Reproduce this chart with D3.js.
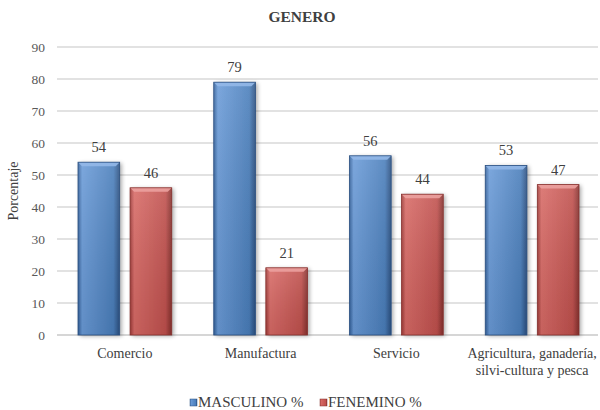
<!DOCTYPE html>
<html>
<head>
<meta charset="utf-8">
<script src="https://cdn.jsdelivr.net/npm/d3@7"></script>
<style>
  body { margin: 0; background: #fff; }
</style>
</head>
<body>
<svg id="chart" width="600" height="410"></svg>
<script>
const categories = ["Comercio", "Manufactura", "Servicio", "Agricultura, ganadería, silvi-cultura y pesca"];
const categoryLines = [["Comercio"], ["Manufactura"], ["Servicio"], ["Agricultura, ganadería,", "silvi-cultura y pesca"]];
const seriesNames = ["MASCULINO %", "FENEMINO %"];
const masculino = [54, 79, 56, 53];
const femenino = [46, 21, 44, 47];
const yTicks = [0, 10, 20, 30, 40, 50, 60, 70, 80, 90];

const FONT = '"Liberation Serif"';
const svg = d3.select("#chart");
const margin = { top: 47, right: 0, bottom: 75, left: 57 };
const W = 600, H = 410;

const x = d3.scaleBand().domain(categories).range([margin.left, W - margin.right]).paddingInner(0).paddingOuter(0);
const sub = d3.scaleBand().domain(seriesNames).range([21, x.bandwidth() - 21]).paddingInner(0.2);
const y = d3.scaleLinear().domain([0, 90]).range([H - margin.bottom, margin.top]);

const colors = {
  "MASCULINO %": { base: "#4a7ebb", light: "#6a9bd8", dark: "#33609a", edge: "#2a4f80", top: "#93b8e8" },
  "FENEMINO %": { base: "#c0504d", light: "#d86a66", dark: "#9e3a37", edge: "#85302d", top: "#eba19e" }
};

const defs = svg.append("defs");
seriesNames.forEach((s, i) => {
  const c = colors[s];
  const g = defs.append("linearGradient").attr("id", "grad" + i).attr("x1", 0).attr("x2", 1).attr("y1", 0).attr("y2", 0);
  g.append("stop").attr("offset", "0%").attr("stop-color", c.dark);
  g.append("stop").attr("offset", "10%").attr("stop-color", c.light);
  g.append("stop").attr("offset", "85%").attr("stop-color", c.base);
  g.append("stop").attr("offset", "100%").attr("stop-color", c.edge);
  const gv = defs.append("linearGradient").attr("id", "vgrad" + i).attr("x1", 0).attr("x2", 0).attr("y1", 0).attr("y2", 1);
  gv.append("stop").attr("offset", "0%").attr("stop-color", "#fff").attr("stop-opacity", 0.12);
  gv.append("stop").attr("offset", "100%").attr("stop-color", "#000").attr("stop-opacity", 0.08);
});
const shadow = defs.append("filter").attr("id", "shadow").attr("x", "-20%").attr("y", "-10%").attr("width", "150%").attr("height", "130%");
shadow.append("feGaussianBlur").attr("in", "SourceAlpha").attr("stdDeviation", 2);
shadow.append("feOffset").attr("dx", 2).attr("dy", 1).attr("result", "b");
shadow.append("feComponentTransfer").append("feFuncA").attr("type", "linear").attr("slope", 0.35);
const merge = shadow.append("feMerge");
merge.append("feMergeNode");
merge.append("feMergeNode").attr("in", "SourceGraphic");

// gridlines
svg.append("g").selectAll("line").data(yTicks).join("line")
  .attr("x1", margin.left).attr("x2", W - 2)
  .attr("y1", d => y(d)).attr("y2", d => y(d))
  .attr("stroke", d => d === 0 ? "#c8c8c8" : "#d9d9d9").attr("stroke-width", 1.3);

// y axis labels
const yAxis = d3.axisLeft(y).tickValues(yTicks).tickSize(0).tickPadding(12);
const ya = svg.append("g").attr("transform", `translate(${margin.left},0)`).call(yAxis);
ya.select(".domain").remove();
ya.selectAll("text").style("font-family", FONT).style("font-size", "13.5px").attr("fill", "#595959");

// y axis title
svg.append("text").attr("transform", `translate(18,${y(45)}) rotate(-90)`)
  .attr("text-anchor", "middle").style("font-family", FONT).style("font-size", "14px")
  .attr("fill", "#404040").text("Porcentaje");

// title
svg.append("text").attr("x", 302).attr("y", 22).attr("text-anchor", "middle")
  .style("font-family", FONT).style("font-size", "15.5px").style("font-weight", "bold")
  .attr("fill", "#404040").text("GENERO");

// bars
const data = categories.map((c, i) => ({ cat: c, values: [
  { s: seriesNames[0], v: masculino[i], i: 0 },
  { s: seriesNames[1], v: femenino[i], i: 1 }
] }));

const groups = svg.append("g").selectAll("g").data(data).join("g")
  .attr("transform", d => `translate(${x(d.cat)},0)`);

groups.selectAll("g.bar").data(d => d.values).join("g").attr("class", "bar").each(function(d) {
  const g = d3.select(this);
  const bx = sub(d.s), bw = sub.bandwidth();
  const by = y(d.v), bh = y(0) - y(d.v);
  const c = colors[d.s];
  g.append("rect").attr("x", bx).attr("y", by).attr("width", bw).attr("height", bh)
    .attr("fill", `url(#grad${d.i})`).attr("filter", "url(#shadow)");
  g.append("rect").attr("x", bx).attr("y", by).attr("width", bw).attr("height", bh)
    .attr("fill", `url(#vgrad${d.i})`);
  // top bevel
  g.append("path")
    .attr("d", `M${bx},${by} L${bx + bw},${by} L${bx + bw - 4},${by + 4} L${bx + 4},${by + 4} Z`)
    .attr("fill", c.top).attr("opacity", 0.9);
  g.append("rect").attr("x", bx).attr("y", by).attr("width", bw).attr("height", bh)
    .attr("fill", "none").attr("stroke", c.edge).attr("stroke-width", 0.8);
  // value label
  g.append("text").attr("x", bx + bw / 2).attr("y", by - 10).attr("text-anchor", "middle")
    .style("font-family", FONT).style("font-size", "14.5px").attr("fill", "#404040").text(d.v);
});

// category labels
const xl = svg.append("g").selectAll("text").data(categories).join("text")
  .attr("x", d => x(d) + x.bandwidth() / 2).attr("y", H - margin.bottom + 23)
  .attr("text-anchor", "middle").style("font-family", FONT).style("font-size", "14px").attr("fill", "#404040");
xl.each(function(d, i) {
  d3.select(this).selectAll("tspan").data(categoryLines[i]).join("tspan")
    .attr("x", x(d) + x.bandwidth() / 2).attr("dy", (t, j) => j === 0 ? 0 : 16.5).text(t => t);
});

// legend
const legendItems = [{ s: seriesNames[0], x: 190 }, { s: seriesNames[1], x: 320 }];
const lg = svg.append("g").selectAll("g").data(legendItems).join("g")
  .attr("transform", d => `translate(${d.x},399)`);
lg.append("rect").attr("x", 0).attr("y", 0).attr("width", 7).attr("height", 7)
  .attr("fill", (d, i) => `url(#grad${i})`).attr("stroke", d => colors[d.s].edge).attr("stroke-width", 0.5);
lg.append("text").attr("x", 8).attr("y", 8).style("font-family", FONT).style("font-size", "15px")
  .attr("fill", "#404040").text(d => d.s);
</script>
</body>
</html>
